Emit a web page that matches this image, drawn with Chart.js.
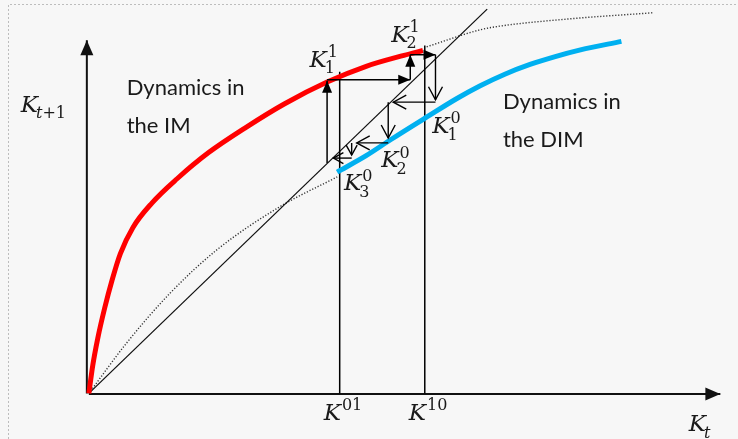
<!DOCTYPE html>
<html>
<head>
<meta charset="utf-8">
<script src="https://cdn.jsdelivr.net/npm/chart.js@4"></script>
<style>
    body { margin: 0; background: #f7f7f7; }
    #wrap { width: 738px; height: 439px; }
</style>
</head>
<body>
<div id="wrap"><canvas id="myChart"></canvas></div>
<script>
// curves (K_t on x, K_t+1 on y)
const imX = [0, 0.6, 1.4, 2.5, 3.7, 5, 7, 10, 14, 19, 25, 31, 37.8, 44, 50, 53];
const imY = [0, 4.5, 9, 14, 18.7, 23, 27.3, 31.3, 35.3, 39.6, 43.8, 47.6, 51.2, 53.8, 55.6, 56.4];

const dimX = [39.4, 44, 48, 53.7, 58.4, 62.1, 66, 70, 74, 78, 84.5];
const dimY = [36.4, 39.1, 41.8, 45.5, 48.5, 50.6, 52.5, 54.1, 55.4, 56.5, 57.9];

const dotLowX = [0, 6, 12.9, 20.3, 30.3, 39.4];
const dotLowY = [0, 8.3, 16.5, 23.6, 30.7, 35.6];
const dotHighX = [53.6, 62.1, 65.2, 76.3, 89.5];
const dotHighY = [57, 59.8, 60.4, 61.6, 62.6];

const diagEnd = 63.2;

// cobweb steps: [x0, y0, x1, y1]
const imSteps = [
    [37.8, 37.9, 37.8, 51.4],
    [37.8, 51.6, 51.0, 51.6],
    [51.0, 51.6, 51.0, 55.7],
    [51.0, 55.7, 55.0, 55.7]
];
const dimSteps = [
    [55.0, 55.7, 55.0, 48.3],
    [55.0, 47.9, 48.3, 47.9],
    [47.5, 47.9, 47.5, 42.0],
    [47.5, 41.2, 42.5, 41.2],
    [41.7, 41.2, 41.7, 39.2],
    [41.7, 38.7, 38.8, 38.7]
];

// thresholds on the K_t axis
const tickValues = [39.8, 53.3];
const tickTops = [52.9, 57.2];
const tickLabels = ['01', '10'];

const xAxisEnd = 100.2;
const yAxisEnd = 58.1;

function pts(xs, ys) {
    return xs.map((x, i) => ({ x: x, y: ys[i] }));
}

const datasets = [];

for (let s of imSteps) {
    datasets.push({ data: [{ x: s[0], y: s[1] }, { x: s[2], y: s[3] }], borderColor: '#000', borderWidth: 1.5, head: 'filled', hl: 12, hw: 5 });
}
for (let i = 0; i < dimSteps.length; i++) {
    const s = dimSteps[i];
    const small = i >= 4;
    datasets.push({ data: [{ x: s[0], y: s[1] }, { x: s[2], y: s[3] }], borderColor: '#000', borderWidth: 1.4, head: 'open', hl: small ? 10 : 13, hw: small ? 5.5 : 7 });
}

datasets.push({ data: pts(imX, imY), borderColor: '#ff0000', borderWidth: 5, cubicInterpolationMode: 'monotone' });
datasets.push({ data: pts(dimX, dimY), borderColor: '#00b0f0', borderWidth: 5, cubicInterpolationMode: 'monotone' });

for (let i = 0; i < tickValues.length; i++) {
    datasets.push({ data: [{ x: tickValues[i], y: 0 }, { x: tickValues[i], y: tickTops[i] }], borderColor: '#000', borderWidth: 1.5 });
}

datasets.push({ data: [{ x: 0, y: 0 }, { x: diagEnd, y: diagEnd }], borderColor: '#111', borderWidth: 1.3 });
datasets.push({ data: pts(dotLowX, dotLowY), borderColor: '#333', borderWidth: 1.4, borderDash: [1.2, 1.8], cubicInterpolationMode: 'monotone' });
datasets.push({ data: pts(dotHighX, dotHighY), borderColor: '#333', borderWidth: 1.4, borderDash: [1.2, 1.8], cubicInterpolationMode: 'monotone' });

// axes with arrow tips
datasets.push({ data: [{ x: 0, y: -0.08 }, { x: xAxisEnd, y: -0.08 }], borderColor: '#111', borderWidth: 2, head: 'filled', hl: 15, hw: 6.5 });
datasets.push({ data: [{ x: -0.32, y: 0 }, { x: -0.32, y: yAxisEnd }], borderColor: '#111', borderWidth: 2, head: 'filled', hl: 15, hw: 6.5 });

const background = {
    id: 'background',
    beforeDraw(chart) {
        const c = chart.ctx;
        c.save();
        c.fillStyle = '#f7f7f7';
        c.fillRect(0, 0, chart.width, chart.height);
        c.strokeStyle = '#bdbdbd';
        c.lineWidth = 1;
        c.setLineDash([2, 2]);
        c.beginPath();
        c.moveTo(8.5, chart.height);
        c.lineTo(8.5, 4.5);
        c.lineTo(chart.width, 4.5);
        c.stroke();
        c.restore();
    }
};

const arrowHeads = {
    id: 'arrowHeads',
    afterDatasetsDraw(chart) {
        const c = chart.ctx;
        chart.data.datasets.forEach((ds, i) => {
            if (!ds.head) return;
            const el = chart.getDatasetMeta(i).data;
            const a = el[el.length - 2], b = el[el.length - 1];
            const ang = Math.atan2(b.y - a.y, b.x - a.x);
            const bx = b.x - ds.hl * Math.cos(ang), by = b.y - ds.hl * Math.sin(ang);
            const nx = -Math.sin(ang) * ds.hw, ny = Math.cos(ang) * ds.hw;
            c.save();
            c.fillStyle = ds.borderColor;
            c.strokeStyle = ds.borderColor;
            c.lineWidth = 1.4;
            c.beginPath();
            c.moveTo(bx + nx, by + ny);
            c.lineTo(b.x, b.y);
            c.lineTo(bx - nx, by - ny);
            if (ds.head === 'filled') {
                c.closePath();
                c.fill();
            } else {
                c.stroke();
            }
            c.restore();
        });
    }
};

// K with optional super/subscript parts; parts are [text, italic]
function mathK(c, x, y, sup, sub, size) {
    c.font = 'italic ' + size + 'px "DejaVu Serif"';
    c.fillText('K', x, y);
    const w = c.measureText('K').width;
    const small = Math.round(size * 0.7);
    if (sup) {
        c.font = small + 'px "DejaVu Serif"';
        c.fillText(sup, x + w + 1, y - size * 0.42);
    }
    if (sub) {
        let sx = x + w - 2;
        for (let p of sub) {
            c.font = (p[1] ? 'italic ' : '') + small + 'px "DejaVu Serif"';
            c.fillText(p[0], sx, y + size * 0.28);
            sx += c.measureText(p[0]).width;
        }
    }
}

const labels = {
    id: 'labels',
    afterDraw(chart) {
        const c = chart.ctx;
        const xs = chart.scales.x, ys = chart.scales.y;
        const px = v => xs.getPixelForValue(v), py = v => ys.getPixelForValue(v);
        c.save();
        c.fillStyle = '#1a1a1a';
        c.textBaseline = 'alphabetic';
        c.textAlign = 'left';

        c.font = '22px Lato';
        c.fillText('Dynamics in', px(6), py(49.1));
        c.fillText('the IM', px(6), py(49.1) + 38);
        c.fillText('Dynamics in', px(65.7), py(46.8));
        c.fillText('the DIM', px(65.7), py(46.8) + 38);

        const fs = 23;
        mathK(c, px(-10.8), py(46.3), null, [['t', true], ['+1', false]], fs);
        mathK(c, px(95.2), py(-6.2), null, [['t', true]], fs);
        for (let i = 0; i < tickValues.length; i++) {
            mathK(c, px(tickValues[i]) - 16, py(-4.3), tickLabels[i], null, fs);
        }
        mathK(c, px(35.0), py(53.7), '1', [['1', false]], fs);
        mathK(c, px(48.0), py(57.8), '1', [['2', false]], fs);
        mathK(c, px(54.5), py(42.8), '0', [['1', false]], fs);
        mathK(c, px(46.4), py(37.2), '0', [['2', false]], fs);
        mathK(c, px(40.5), py(33.4), '0', [['3', false]], fs);
        c.restore();
    }
};

const ctx = document.getElementById('myChart').getContext('2d');
const chart = new Chart(ctx, {
    type: 'scatter',
    data: { datasets: datasets },
    options: {
        responsive: true,
        maintainAspectRatio: false,
        animation: false,
        showLine: true,
        elements: { point: { radius: 0 }, line: { fill: false } },
        layout: { padding: 0 },
        plugins: { legend: { display: false }, tooltip: { enabled: false } },
        scales: {
            x: { type: 'linear', display: false, min: -14.1, max: 103.0 },
            y: { type: 'linear', display: false, min: -7.5, max: 64.7 }
        }
    },
    plugins: [background, arrowHeads, labels]
});
</script>
</body>
</html>
